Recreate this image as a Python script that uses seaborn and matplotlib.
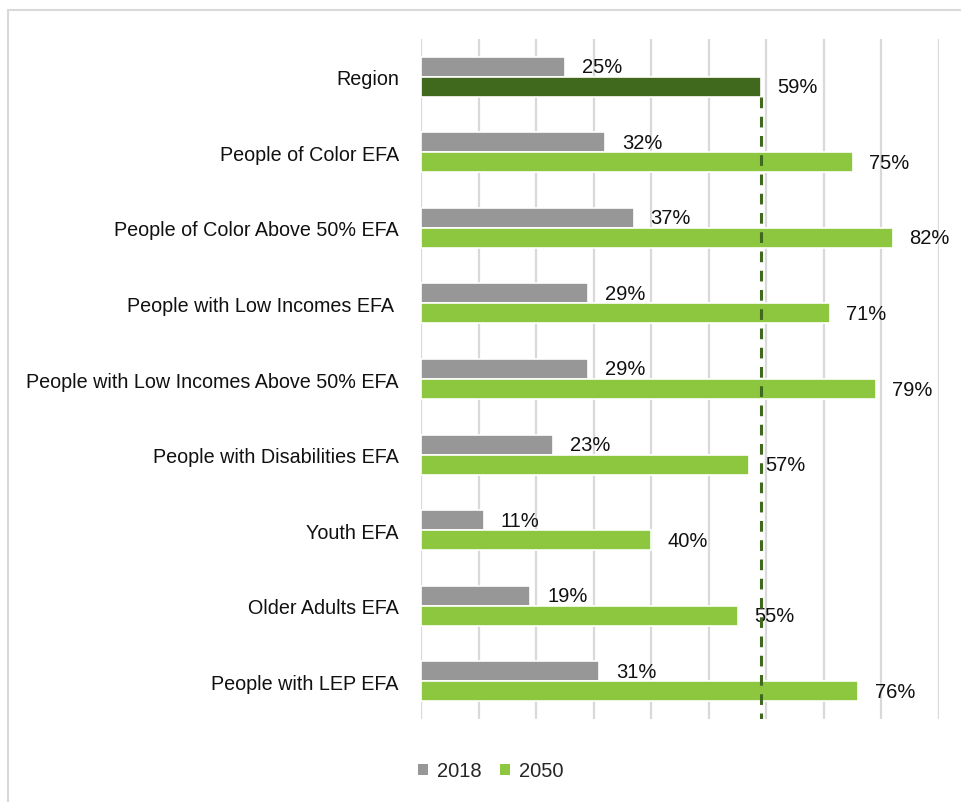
import matplotlib
matplotlib.use("Agg")
import matplotlib.pyplot as plt
import seaborn as sns
import pandas as pd
from matplotlib.patches import Patch, Rectangle

categories = [
    "Region",
    "People of Color EFA",
    "People of Color Above 50% EFA",
    "People with Low Incomes EFA ",
    "People with Low Incomes Above 50% EFA",
    "People with Disabilities EFA",
    "Youth EFA",
    "Older Adults EFA",
    "People with LEP EFA",
]
values_2018 = [25, 32, 37, 29, 29, 23, 11, 19, 31]
values_2050 = [59, 75, 82, 71, 79, 57, 40, 55, 76]
years = ["2018", "2050"]
region_2050 = 59

GRAY = "#979797"
GREEN = "#8DC63F"
DARK = "#41691E"

sns.set_theme(style="white")
plt.rcParams["font.family"] = ["Liberation Sans", "DejaVu Sans"]

rows = []
for c, a, b in zip(categories, values_2018, values_2050):
    rows.append({"Category": c, "Year": years[0], "Value": a})
    rows.append({"Category": c, "Year": years[1], "Value": b})
df = pd.DataFrame(rows)

fig = plt.figure(figsize=(9.61, 8.03), dpi=100)
ax = fig.add_axes([421 / 961, 1 - 720 / 803, 518 / 961, 680 / 803])

sns.barplot(data=df, y="Category", x="Value", hue="Year", orient="h",
            palette={years[0]: GRAY, years[1]: GREEN}, width=0.53,
            edgecolor="white", linewidth=1.2, ax=ax, legend=False,
            saturation=1, errorbar=None)

# Region 2050 bar in dark green
cont2050 = ax.containers[1]
cont2050.patches[0].set_facecolor(DARK)

for cont, vals in zip(ax.containers, [values_2018, values_2050]):
    ax.bar_label(cont, labels=[f"{v}%" for v in vals], padding=12,
                 fontsize=14.5, color="#111111")

ax.set_xlim(0, 90)
ax.set_ylim(8.5, -0.5)
ax.set_xticks(range(0, 91, 10))
ax.set_xticklabels([])
ax.xaxis.grid(True, color="#D9D9D9", linewidth=1.6)
ax.yaxis.grid(False)
ax.set_axisbelow(True)
for s in ax.spines.values():
    s.set_visible(False)
ax.set_xlabel("")
ax.set_ylabel("")
ax.tick_params(axis="y", length=0, pad=16, labelsize=14.2, labelcolor="#111111")
ax.tick_params(axis="x", length=0)

ax.vlines(region_2050, 0.27, 8.5, colors=DARK, linestyles=(0, (3.5, 2.8)),
          linewidth=2.2, zorder=5)

handles = [Patch(facecolor=GRAY, edgecolor="none"),
           Patch(facecolor=GREEN, edgecolor="none")]
fig.legend(handles, years, loc="center", bbox_to_anchor=(491 / 961, 1 - 772 / 803),
           ncol=2, frameon=False, fontsize=14.5, handlelength=0.5, handleheight=0.5,
           handletextpad=0.45, columnspacing=0.9)

fig.patches.append(Rectangle((8 / 961, -0.1), 1.2, 1 - 10.5 / 803 + 0.1,
                             transform=fig.transFigure, fill=False,
                             edgecolor="#D9D9D9", linewidth=1.5))

fig.savefig("out.png", dpi=100)
